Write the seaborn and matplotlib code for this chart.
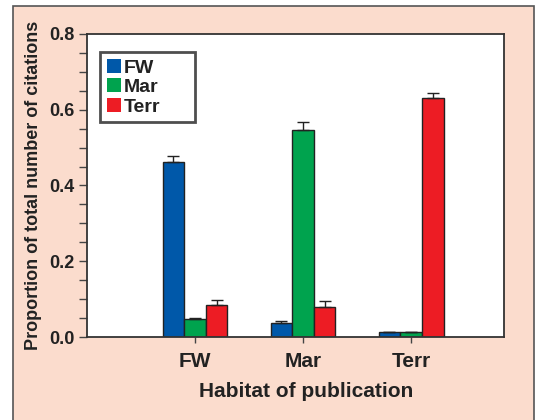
import numpy as np
import pandas as pd
import matplotlib
matplotlib.use('Agg')
import matplotlib.pyplot as plt
from matplotlib.patches import Rectangle, Patch
from matplotlib.ticker import MultipleLocator
import seaborn as sns

# habitat of the publication (x) and habitat of the cited work (hue)
habitats = ['FW', 'Mar', 'Terr']
cited = ['FW', 'Mar', 'Terr']

# proportion of citations, one list per cited habitat
fw_vals = [0.462, 0.037, 0.013]
mar_vals = [0.047, 0.546, 0.013]
terr_vals = [0.085, 0.079, 0.631]

# upper standard errors
fw_err = [0.016, 0.004, 0.0]
mar_err = [0.003, 0.021, 0.0]
terr_err = [0.013, 0.015, 0.013]

colors = ['#0058A9', '#00A34E', '#ED1C24']

rows = []
for name, vals in zip(cited, [fw_vals, mar_vals, terr_vals]):
    for hab, v in zip(habitats, vals):
        rows.append({'habitat': hab, 'cited': name, 'prop': v})
df = pd.DataFrame(rows)
errs = [fw_err, mar_err, terr_err]

sns.set_style('white')
plt.rcParams['font.family'] = ['Liberation Sans', 'DejaVu Sans']

fig = plt.figure(figsize=(5.35, 4.2), dpi=100)
fig.patches.append(Rectangle((13 / 535, -0.05), 521 / 535, 1.05 - 6 / 420,
                             transform=fig.transFigure, facecolor='#FBDCCD',
                             edgecolor='#555555', linewidth=1.2, zorder=-10))

ax = fig.add_axes([87 / 535, 83 / 420, 417 / 535, 303 / 420])
ax.set_facecolor('white')

sns.barplot(data=df, x='habitat', y='prop', hue='cited', order=habitats,
            hue_order=cited, palette=colors, width=0.6, saturation=1,
            edgecolor='#222222', linewidth=1, legend=False, errorbar=None, ax=ax)

# one-sided error bars on top of each bar
for cont, err in zip(ax.containers, errs):
    xs = [p.get_x() + p.get_width() / 2 for p in cont]
    ys = [p.get_height() for p in cont]
    ax.errorbar(xs, ys, yerr=[np.zeros(len(err)), err], fmt='none',
                ecolor='#222222', elinewidth=1, capsize=4.5, capthick=1)

ax.set_xlim(-1.0, 2.86)
ax.set_ylim(0, 0.8)
ax.yaxis.set_major_locator(MultipleLocator(0.2))
ax.yaxis.set_minor_locator(MultipleLocator(0.05))
ax.yaxis.set_major_formatter(matplotlib.ticker.FormatStrFormatter('%.1f'))
ax.tick_params(axis='both', which='both', direction='out', length=6,
               width=1, color='#444444', left=True, bottom=True)
ax.tick_params(axis='y', labelsize=13, pad=3)
ax.tick_params(axis='x', labelsize=15, pad=7, length=4)
for lab in ax.get_xticklabels() + ax.get_yticklabels():
    lab.set_fontweight('bold')
    lab.set_color('#222222')

for side in ['left', 'bottom', 'top', 'right']:
    ax.spines[side].set_visible(True)
    ax.spines[side].set_color('#333333')
    ax.spines[side].set_linewidth(1.3)

ax.set_xlabel('Habitat of publication', fontsize=15, fontweight='bold',
              color='#222222', labelpad=8)
ax.xaxis.label.set_x(0.525)
ax.set_ylabel('Proportion of total number of citations', fontsize=13,
              fontweight='bold', color='#222222', labelpad=5)

handles = [Patch(facecolor=c, edgecolor='none', label=n) for c, n in zip(colors, cited)]
leg = ax.legend(handles=handles, loc='upper left', bbox_to_anchor=(0.031, 0, 0.228, 0.941),
                mode='expand', borderaxespad=0, frameon=True, fancybox=False,
                handlelength=0.75, handleheight=0.75, handletextpad=0.15,
                labelspacing=0.08, prop={'size': 14, 'weight': 'bold'},
                borderpad=0.35)
leg.get_frame().set_edgecolor('#222222')
leg.get_frame().set_linewidth(2)
for t in leg.get_texts():
    t.set_color('#222222')

fig.savefig('out.png', dpi=100)
